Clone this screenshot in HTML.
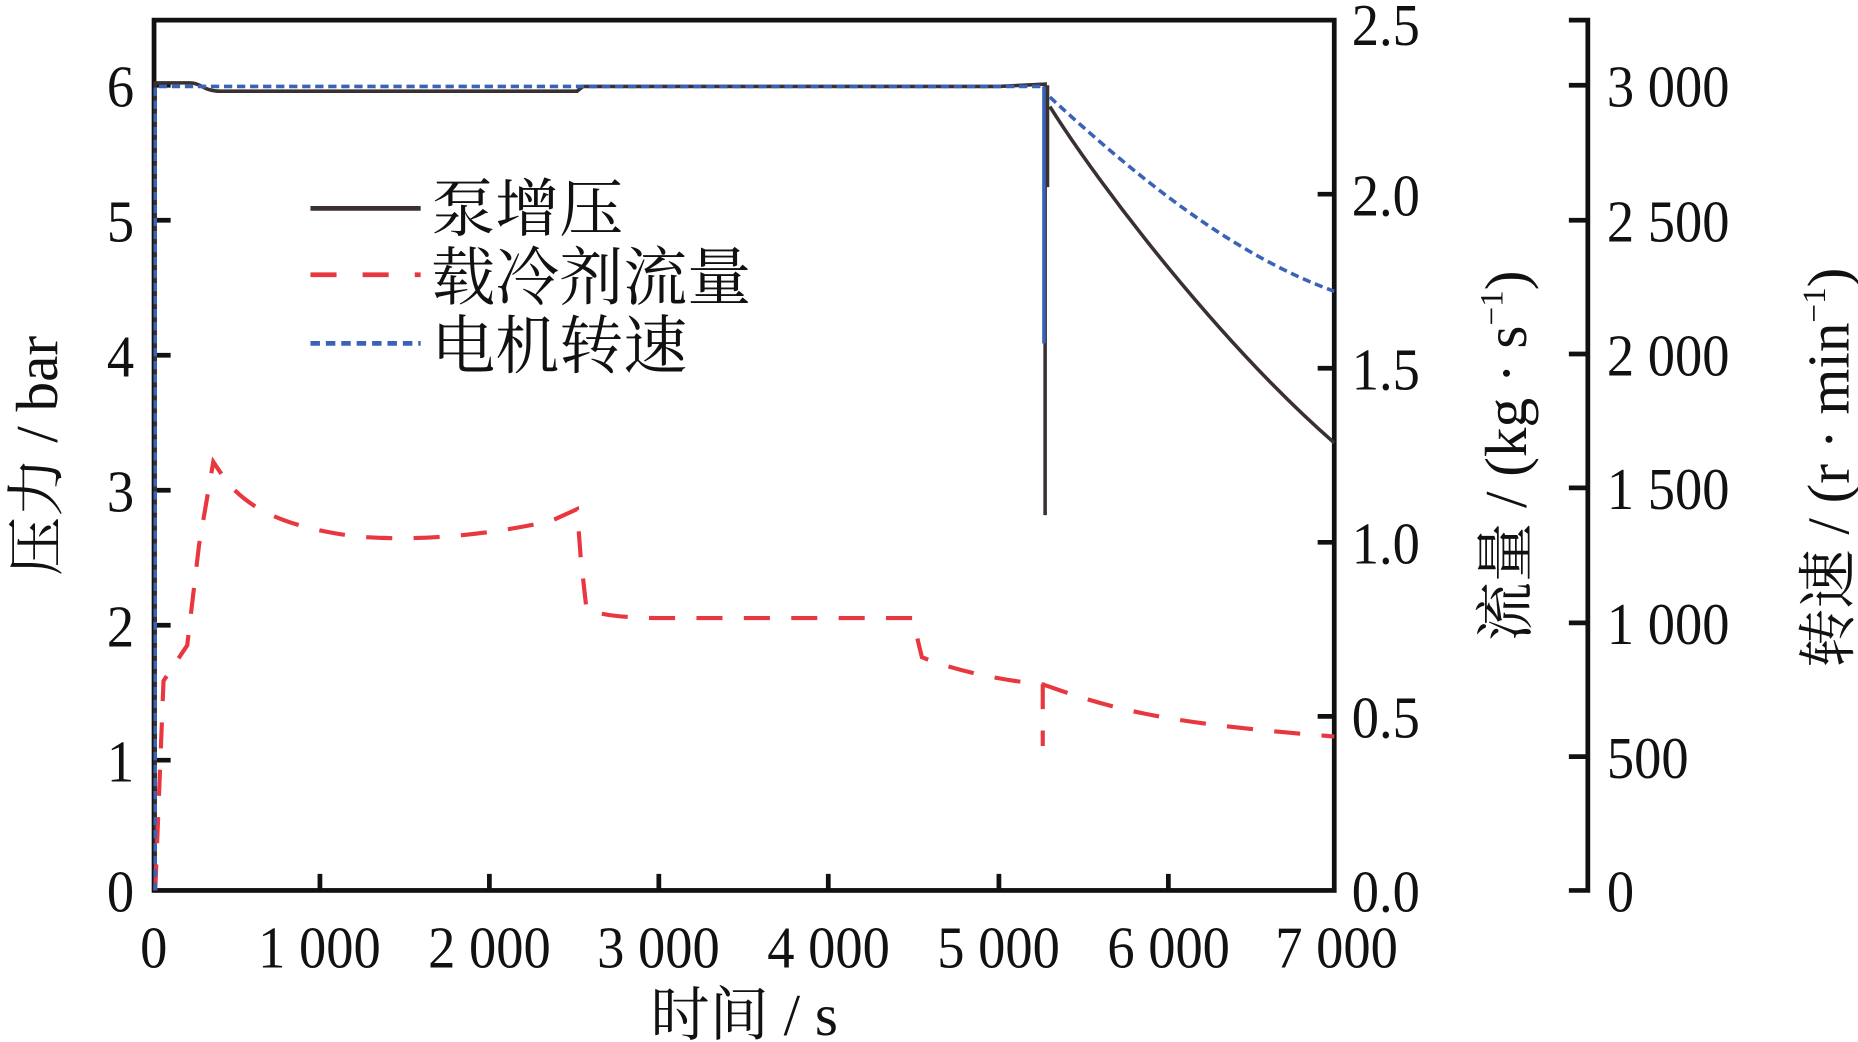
<!DOCTYPE html>
<html><head><meta charset="utf-8"><style>
html,body{margin:0;padding:0;background:#fff;width:1858px;height:1042px;overflow:hidden}
svg{display:block}
text{font-family:"Liberation Serif","Noto Serif CJK SC","Noto Sans CJK SC",serif;fill:#111}
.cn{font-family:"Liberation Serif","Noto Serif CJK SC",serif}
</style></head><body>
<svg width="1858" height="1042" viewBox="0 0 1568 880" preserveAspectRatio="none">
<g stroke="#111" stroke-width="4" fill="none">
<rect x="130" y="17" width="996" height="735"/>
<path d="M130 72h14M130 186h14M130 300h14M130 414h14M130 528h14M130 642h14"/>
<path d="M270 752v-14M413 752v-14M556 752v-14M699 752v-14M843 752v-14M986 752v-14"/>
<path d="M1126 164h-14M1126 311h-14M1126 458h-14M1126 605h-14"/>
<path d="M1324 17h16v735h-16M1324 72h16M1324 186h16M1324 299h16M1324 412h16M1324 526h16M1324 639h16"/>
</g>
<g font-size="50">
<g transform="scale(0.92,1)">
<text x="123" y="90" text-anchor="end">6</text>
<text x="123" y="204" text-anchor="end">5</text>
<text x="123" y="318" text-anchor="end">4</text>
<text x="123" y="432" text-anchor="end">3</text>
<text x="123" y="546" text-anchor="end">2</text>
<text x="123" y="660" text-anchor="end">1</text>
<text x="123" y="770" text-anchor="end">0</text>
<g text-anchor="middle">
<text x="141" y="817">0</text><text x="293" y="817">1 000</text><text x="449" y="817">2 000</text><text x="604" y="817">3 000</text><text x="760" y="817">4 000</text><text x="916" y="817">5 000</text><text x="1072" y="817">6 000</text><text x="1226" y="817">7 000</text>
</g>
<text x="1240" y="38">2.5</text>
<text x="1240" y="182">2.0</text>
<text x="1240" y="329">1.5</text>
<text x="1240" y="476">1.0</text>
<text x="1240" y="623">0.5</text>
<text x="1240" y="770">0.0</text>
<text x="1474" y="90">3 000</text>
<text x="1474" y="204">2 500</text>
<text x="1474" y="317">2 000</text>
<text x="1474" y="430">1 500</text>
<text x="1474" y="544">1 000</text>
<text x="1474" y="657">500</text>
<text x="1474" y="770">0</text>
</g>
<text x="628" y="874" text-anchor="middle" class="cn">时间 / s</text>
<text transform="translate(48,385) rotate(-90)" text-anchor="middle" class="cn">压力 / bar</text>
<text transform="translate(1288,385) rotate(-90)" text-anchor="middle" class="cn">流量 / (kg · s<tspan font-size="28" dy="-20">−1</tspan><tspan dy="20">)</tspan></text>
<text transform="translate(1560,395) rotate(-90)" text-anchor="middle" class="cn">转速 / (r · min<tspan font-size="28" dy="-20">−1</tspan><tspan dy="20">)</tspan></text>
</g>
<g font-size="54" class="cn">
<text x="364" y="195">泵增压</text>
<text x="364" y="253">载冷剂流量</text>
<text x="364" y="311">电机转速</text>
</g>
<path d="M262 176h93" stroke="#3a3030" stroke-width="4"/>
<path d="M262 232h93" stroke="#e8373f" stroke-width="4" stroke-dasharray="22,22"/>
<path d="M262 290h93" stroke="#3a63b8" stroke-width="4" stroke-dasharray="8,5"/>
<path d="M131 752V70H160C170 70 172 77 185 77H487L492 73H843L882 71V435M884 72V158M886 90C930 160 1030 290 1126 374" stroke="#3a3030" stroke-width="3" fill="none"/>
<path d="M131 752L138 575L158 545L168 460L180 390L190 405C210 430 240 445 300 453C360 458 420 450 465 440L487 430L490 470L495 515C510 520 530 522 560 522H770L778 555C810 568 850 575 880 578V630M880 578L886 580C950 603 1000 612 1126 622" stroke="#e8373f" stroke-width="3.5" fill="none" stroke-dasharray="22,18"/>
<path d="M131 752V73H880" stroke="#3a63b8" stroke-width="3" fill="none" stroke-dasharray="7,4"/>
<path d="M881 73V290" stroke="#3a63b8" stroke-width="3" fill="none"/>
<path d="M886 82C960 150 1040 215 1126 246" stroke="#3a63b8" stroke-width="3" fill="none" stroke-dasharray="7,4"/>
</svg>
</body></html>
